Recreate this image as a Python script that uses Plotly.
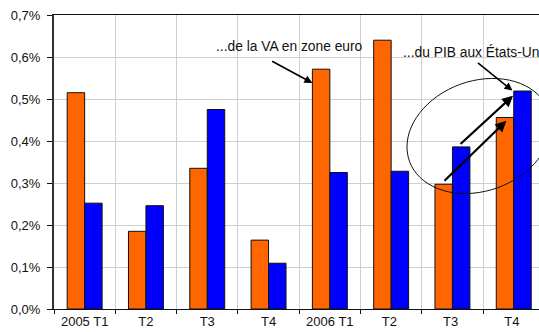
import math
import plotly.graph_objects as go

# Quarterly contributions (in %) — two series per quarter
quarters = ["2005 T1", "T2", "T3", "T4", "2006 T1", "T2 ", "T3 ", "T4 "]
va_zone_euro = [0.515, 0.185, 0.335, 0.164, 0.571, 0.640, 0.297, 0.456]
pib_etats_unis = [0.252, 0.246, 0.475, 0.109, 0.325, 0.328, 0.386, 0.519]

label_va = "...de la VA en zone euro"
label_pib = "...du PIB aux États-Unis"

ORANGE = "#FF6600"
BLUE = "#0000FF"
FONT = "Liberation Sans, Arial, sans-serif"

W, H = 539, 332
ML, MR, MT, MB = 54, 0, 15, 23
CAT_PX = 61.3  # width of one quarter slot in pixels
plot_w = W - ML - MR
plot_h = H - MT - MB
x_range = [-0.5, -0.5 + plot_w / CAT_PX]
y_max = 0.007

fig = go.Figure()
fig.add_trace(go.Bar(
    x=quarters, y=[v / 100 for v in va_zone_euro], name=label_va,
    marker=dict(color=ORANGE, line=dict(color="#111111", width=1)),
))
fig.add_trace(go.Bar(
    x=quarters, y=[v / 100 for v in pib_etats_unis], name=label_pib,
    marker=dict(color=BLUE, line=dict(color="#111111", width=1)),
))


def to_paper(px, py):
    return (px - ML) / plot_w, (H - MB - py) / plot_h


# Tilted ellipse around the last two US quarters (pixel geometry -> paper)
cx, cy, a, b, phi = 479, 136, 74, 55, math.radians(-20)
pts = []
for k in range(73):
    t = 2 * math.pi * k / 72
    px = cx + a * math.cos(t) * math.cos(phi) - b * math.sin(t) * math.sin(phi)
    py = cy + a * math.cos(t) * math.sin(phi) + b * math.sin(t) * math.cos(phi)
    pts.append(to_paper(px, py))
path = "M " + " L ".join(f"{x:.4f},{y:.4f}" for x, y in pts) + " Z"
fig.add_shape(type="path", path=path, xref="paper", yref="paper",
              line=dict(color="#111111", width=1))

annotations = [
    dict(text=label_va, x=3.337, y=0.006254, xref="x", yref="y",
         showarrow=False, xanchor="center", yanchor="middle",
         font=dict(family=FONT, size=13.8, color="#111111")),
    dict(text=label_pib, x=5.16, y=0.00612, xref="x", yref="y",
         showarrow=False, xanchor="left", yanchor="middle",
         font=dict(family=FONT, size=13.8, color="#111111")),
]

# Arrows: (head x, head y, tail dx px, tail dy px, width)
arrows = [
    (3.715, 0.00538, -41.7, -22.6, 1.6),
    (6.978, 0.00520, -36.0, -29.0, 1.6),
    (6.988, 0.00508, -54.0, 49.7, 2.2),
    (6.880, 0.00448, -63.4, 61.3, 2.2),
]
for hx, hy, dx, dy, w in arrows:
    annotations.append(dict(
        text="", x=hx, y=hy, xref="x", yref="y", ax=dx, ay=dy,
        showarrow=True, arrowhead=2, arrowsize=1, arrowwidth=w,
        arrowcolor="#000000", standoff=0,
    ))

fig.update_layout(
    width=W, height=H,
    margin=dict(l=ML, r=MR, t=MT, b=MB, pad=0),
    paper_bgcolor="white", plot_bgcolor="white",
    barmode="group", bargap=0.43, bargroupgap=0,
    showlegend=False,
    separators=", ",
    font=dict(family=FONT, size=13, color="#111111"),
    annotations=annotations,
)
fig.update_xaxes(
    type="category", range=x_range, automargin=False,
    tickson="boundaries", ticks="outside", ticklen=4, tickcolor="#111111",
    showgrid=True, gridcolor="#cfcfcf", gridwidth=1,
    showline=True, linecolor="#111111", linewidth=1, mirror=True,
    tickfont=dict(family=FONT, size=13, color="#111111"),
)
fig.update_yaxes(
    range=[0, y_max], dtick=0.001, tickformat=".1%", automargin=False,
    ticks="outside", ticklen=5, tickcolor="#111111",
    showgrid=True, gridcolor="#cfcfcf", gridwidth=1,
    showline=True, linecolor="#333333", linewidth=2,
    zeroline=False, ticklabelstandoff=4,
    tickfont=dict(family=FONT, size=13, color="#111111"),
)

fig.write_html("out.html")
